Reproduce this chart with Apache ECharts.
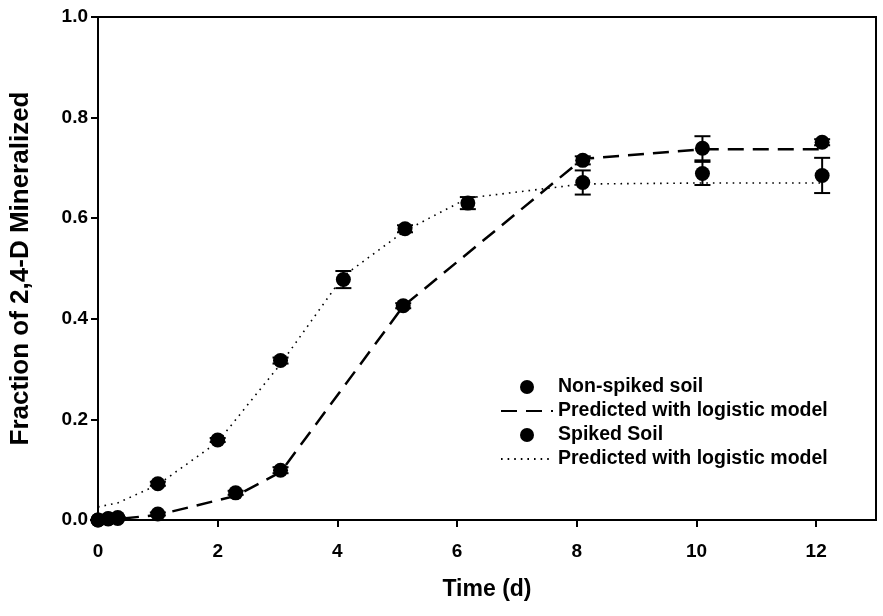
<!DOCTYPE html>
<html>
<head>
<meta charset="utf-8">
<script src="https://cdn.jsdelivr.net/npm/echarts@6/dist/echarts.min.js"></script>
<style>
  html, body { margin: 0; padding: 0; background: #fff; }
  #chart { width: 883px; height: 616px; }
</style>
</head>
<body>
<div id="chart"></div>
<script>
// sampling times (d)
let timesNonSpiked = [0, 0.17, 0.33, 1.0, 2.3, 3.05, 5.1, 8.1, 10.1, 12.1];
let timesSpiked = [0, 0.17, 0.33, 1.0, 2.0, 3.05, 4.1, 5.13, 6.18, 8.1, 10.1, 12.1];

// measured fraction mineralized and std error
let nonSpiked = [0, 0.002, 0.003, 0.012, 0.054, 0.099, 0.426, 0.715, 0.739, 0.751];
let nonSpikedErr = [0, 0, 0, 0.003, 0.004, 0.006, 0.005, 0.008, 0.024, 0.006];
let spiked = [0, 0.003, 0.005, 0.072, 0.159, 0.317, 0.478, 0.579, 0.63, 0.671, 0.689, 0.685];
let spikedErr = [0, 0, 0, 0.004, 0.004, 0.006, 0.017, 0.007, 0.012, 0.024, 0.023, 0.035];

// logistic model predictions at the same times
let nonSpikedPred = [0, 0.001, 0.002, 0.01, 0.048, 0.095, 0.425, 0.718, 0.737, 0.737];
let spikedPred = [0.026, 0.03, 0.034, 0.07, 0.155, 0.31, 0.485, 0.575, 0.64, 0.668, 0.67, 0.67];

let xTicks = [0, 2, 4, 6, 8, 10, 12];
let yTicks = [0.0, 0.2, 0.4, 0.6, 0.8, 1.0];

function pairs(xs, ys) {
    return xs.map(function (x, i) { return [x, ys[i]]; });
}
function errData(xs, ys, es) {
    return xs.map(function (x, i) { return [x, ys[i] - es[i], ys[i] + es[i]]; });
}

function renderErr(params, api) {
    let lo = api.coord([api.value(0), api.value(1)]);
    let hi = api.coord([api.value(0), api.value(2)]);
    let half = 8;
    let style = { stroke: '#000', lineWidth: 2 };
    return {
        type: 'group',
        children: [
            { type: 'line', shape: { x1: lo[0], y1: lo[1], x2: hi[0], y2: hi[1] }, style: style },
            { type: 'line', shape: { x1: lo[0] - half, y1: lo[1], x2: lo[0] + half, y2: lo[1] }, style: style },
            { type: 'line', shape: { x1: hi[0] - half, y1: hi[1], x2: hi[0] + half, y2: hi[1] }, style: style }
        ]
    };
}

let font = 'Liberation Sans, Arial, sans-serif';
let predName1 = 'Predicted with logistic model';
let predName2 = 'Predicted with logistic model ';

let chart = echarts.init(document.getElementById('chart'));
chart.setOption({
    animation: false,
    backgroundColor: '#fff',
    grid: {
        left: 97, right: 7, top: 17, bottom: 96,
        show: true, borderColor: '#000', borderWidth: 2
    },
    legend: {
        orient: 'vertical',
        left: 495, top: 372,
        itemWidth: 52, itemHeight: 14, itemGap: 4,
        textStyle: { fontFamily: font, fontSize: 19.5, fontWeight: 'bold', color: '#000' },
        data: [
            'Non-spiked soil',
            { name: predName1, itemStyle: { opacity: 0 } },
            'Spiked Soil',
            { name: predName2, itemStyle: { opacity: 0 } }
        ]
    },
    xAxis: {
        type: 'value',
        min: 0, max: 13,
        name: 'Time (d)',
        nameLocation: 'middle',
        nameGap: 58,
        nameTextStyle: { fontFamily: font, fontSize: 23, fontWeight: 'bold', color: '#000' },
        splitLine: { show: false },
        axisLine: { lineStyle: { color: '#000', width: 2 } },
        axisTick: { length: 7, customValues: xTicks, lineStyle: { color: '#000', width: 2 } },
        axisLabel: {
            margin: 22, customValues: xTicks,
            fontFamily: font, fontSize: 19, fontWeight: 'bold', color: '#000'
        }
    },
    yAxis: {
        type: 'value',
        min: 0, max: 1,
        name: 'Fraction of 2,4-D Mineralized',
        nameLocation: 'middle',
        nameGap: 64,
        nameTextStyle: { fontFamily: font, fontSize: 26, fontWeight: 'bold', color: '#000' },
        splitLine: { show: false },
        axisLine: { lineStyle: { color: '#000', width: 2 } },
        axisTick: { length: 7, customValues: yTicks, lineStyle: { color: '#000', width: 2 } },
        axisLabel: {
            margin: 10, customValues: yTicks,
            fontFamily: font, fontSize: 19, fontWeight: 'bold', color: '#000',
            formatter: function (v) { return v.toFixed(1); }
        }
    },
    series: [
        {
            name: predName1,
            type: 'line',
            data: pairs(timesNonSpiked, nonSpikedPred),
            symbol: 'none',
            showSymbol: false,
            lineStyle: { color: '#000', width: 2.5, type: [16, 9] },
            itemStyle: { color: '#000' },
            z: 2
        },
        {
            name: predName2,
            type: 'line',
            data: pairs(timesSpiked, spikedPred),
            symbol: 'none',
            showSymbol: false,
            lineStyle: { color: '#000', width: 1.6, type: [1.6, 5] },
            itemStyle: { color: '#000' },
            z: 2
        },
        {
            type: 'custom',
            renderItem: renderErr,
            data: errData(timesNonSpiked, nonSpiked, nonSpikedErr),
            z: 3
        },
        {
            type: 'custom',
            renderItem: renderErr,
            data: errData(timesSpiked, spiked, spikedErr),
            z: 3
        },
        {
            name: 'Non-spiked soil',
            type: 'scatter',
            data: pairs(timesNonSpiked, nonSpiked),
            symbol: 'circle',
            symbolSize: 15,
            itemStyle: { color: '#000', opacity: 1 },
            z: 4
        },
        {
            name: 'Spiked Soil',
            type: 'scatter',
            data: pairs(timesSpiked, spiked),
            symbol: 'circle',
            symbolSize: 15,
            itemStyle: { color: '#000', opacity: 1 },
            z: 4
        }
    ]
});
</script>
</body>
</html>
